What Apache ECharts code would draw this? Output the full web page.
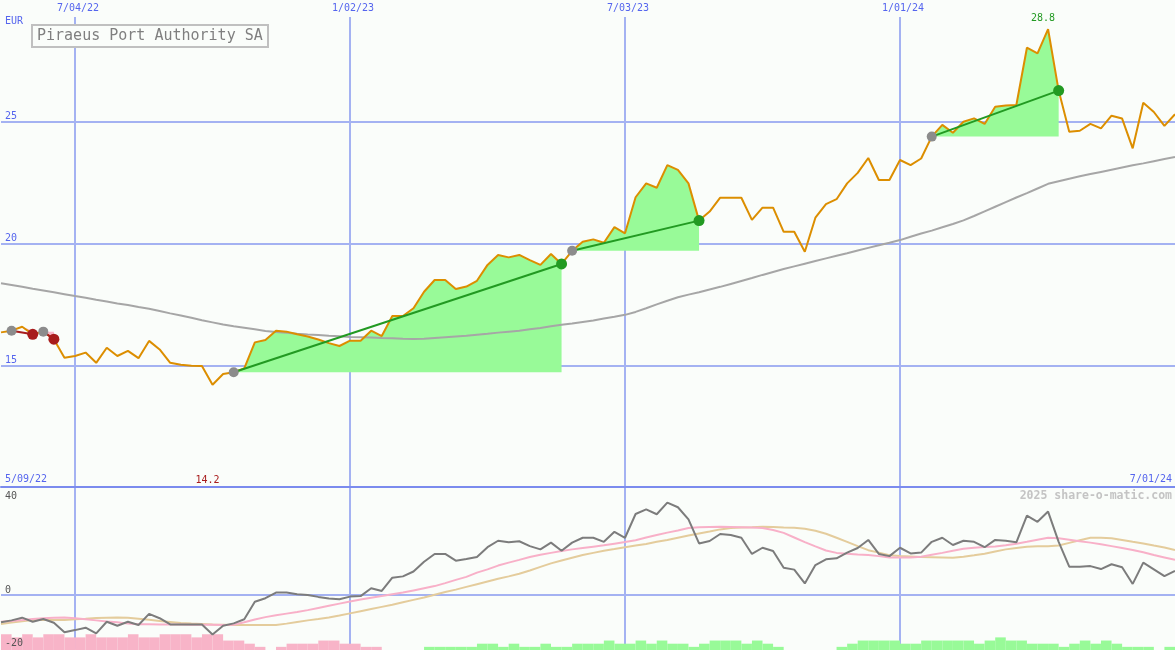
<!DOCTYPE html>
<html><head><meta charset="utf-8">
<script src="https://cdn.jsdelivr.net/npm/echarts@6/dist/echarts.min.js"></script>
<style>html,body{margin:0;padding:0;background:#fafdfa;}#c{width:1175px;height:650px;}</style>
</head><body><div id="c"></div>
<script>
// ---------- data ----------
const title = 'Piraeus Port Authority SA';
const currency = 'EUR';
const startDate = '2022-05-09';      // first weekly bar (5/09/22)
const weekCount = 113;
const firstShown = 1;                // week 0 lies just left of the visible frame
const dateTickIdx = [8, 34, 60, 86];   // 7/04/22, 1/02/23, 7/03/23, 1/01/24
const priceTicks = [15, 20, 25];
const oscTicks = [-20, 0, 40];

const price = [16.30,16.35,16.42,16.58,16.27,16.38,16.07,15.31,15.38,15.52,
 15.10,15.72,15.38,15.59,15.29,16.00,15.65,15.10,15.02,14.98,
 14.97,14.20,14.64,14.71,14.87,15.94,16.04,16.42,16.38,16.27,
 16.18,16.06,15.91,15.79,16.01,16.01,16.42,16.20,17.02,17.02,
 17.34,18.02,18.50,18.50,18.13,18.23,18.47,19.12,19.53,19.43,
 19.53,19.32,19.12,19.57,19.16,19.70,20.07,20.17,20.03,20.67,
 20.42,21.90,22.47,22.29,23.22,23.02,22.47,20.94,21.31,21.88,
 21.88,21.88,20.97,21.47,21.47,20.48,20.48,19.66,21.06,21.62,
 21.82,22.47,22.90,23.51,22.61,22.61,23.43,23.22,23.49,24.39,
 24.87,24.55,25.00,25.14,24.91,25.62,25.67,25.69,28.04,27.81,
 28.80,26.28,24.59,24.63,24.91,24.73,25.25,25.13,23.91,25.78,
 25.40,24.83,25.31];

const movingAvg = [18.45,18.37,18.30,18.22,18.14,18.07,18.00,17.92,17.84,17.77,
 17.69,17.62,17.54,17.47,17.39,17.32,17.23,17.13,17.04,16.95,
 16.85,16.76,16.67,16.60,16.54,16.48,16.41,16.37,16.33,16.29,
 16.26,16.24,16.21,16.19,16.16,16.15,16.14,16.12,16.11,16.09,
 16.08,16.09,16.12,16.15,16.18,16.21,16.25,16.29,16.34,16.38,
 16.42,16.48,16.53,16.60,16.66,16.71,16.78,16.84,16.92,16.99,
 17.07,17.19,17.34,17.50,17.65,17.79,17.90,18.00,18.11,18.22,
 18.34,18.46,18.58,18.71,18.83,18.95,19.06,19.17,19.28,19.39,
 19.50,19.60,19.71,19.82,19.93,20.03,20.14,20.28,20.41,20.53,
 20.67,20.80,20.95,21.13,21.32,21.51,21.70,21.89,22.07,22.26,
 22.45,22.56,22.66,22.76,22.85,22.94,23.03,23.12,23.21,23.29,
 23.38,23.47,23.55];

// rising trends (green) and falling trends (red): start / end week index
const riseStart = [23, 55, 89];
const riseEnd   = [54, 67, 101];
const fallStart = [2, 5];
const fallEnd   = [4, 6];

// lower panel
const oscMain = [-10.4,-10.1,-9.4,-8.4,-9.9,-8.9,-10.3,-13.8,-13.0,-12.1,
 -14.2,-9.9,-11.4,-9.9,-11.1,-7.0,-8.6,-10.9,-10.9,-10.9,
 -10.9,-14.6,-11.4,-10.5,-9.0,-2.5,-1.2,0.9,0.9,0.3,
 0.0,-0.7,-1.3,-1.6,-0.6,-0.4,2.5,1.5,6.4,6.9,
 8.7,12.3,15.2,15.2,12.7,13.3,14.1,17.7,20.1,19.5,
 19.9,18.1,16.9,19.4,16.4,19.4,21.2,21.2,19.7,23.4,
 21.2,30.0,31.7,29.9,34.2,32.5,28.0,19.1,20.0,22.6,
 22.2,21.2,15.2,17.5,16.3,10.1,9.4,4.3,11.1,13.2,
 13.6,15.7,17.4,20.4,15.2,14.4,17.5,15.4,15.7,19.7,
 21.2,18.5,20.1,19.7,17.7,20.4,20.1,19.5,29.4,27.1,
 30.9,19.7,10.5,10.5,10.7,9.6,11.4,10.3,4.1,12.0,
 9.5,7.0,8.9];

const oscPink = [-10.2,-9.9,-9.6,-9.3,-8.9,-8.6,-8.4,-8.3,-8.6,-9.0,
 -9.4,-9.8,-10.1,-10.6,-10.8,-10.8,-10.9,-10.9,-10.9,-11.0,
 -11.0,-11.0,-11.1,-11.0,-10.1,-9.1,-8.2,-7.5,-6.9,-6.3,
 -5.6,-4.8,-4.0,-3.2,-2.4,-1.7,-1.0,-0.4,0.3,0.9,
 1.7,2.5,3.3,4.4,5.6,6.7,8.3,9.5,10.9,12.0,
 13.0,14.1,14.9,15.6,16.3,16.9,17.4,17.9,18.4,19.0,
 19.6,20.3,21.3,22.2,23.1,23.9,24.8,25.1,25.2,25.3,
 25.2,25.1,25.0,24.8,24.1,23.0,21.3,19.6,18.0,16.5,
 15.6,15.3,15.0,14.8,14.4,13.9,13.9,13.9,14.2,14.9,
 15.6,16.4,17.1,17.5,17.8,18.0,18.4,19.0,19.7,20.5,
 21.2,21.0,20.5,19.9,19.4,18.8,18.1,17.4,16.7,15.8,
 14.8,13.9,13.0];

const oscTan = [-11.1,-10.7,-10.2,-9.7,-9.3,-9.3,-9.3,-9.3,-9.0,-8.8,
 -8.5,-8.4,-8.3,-8.4,-8.8,-9.2,-9.6,-10.0,-10.4,-10.6,
 -10.7,-10.9,-11.0,-11.1,-11.1,-11.1,-11.1,-11.1,-10.6,-10.0,
 -9.4,-8.9,-8.3,-7.6,-6.8,-6.0,-5.2,-4.4,-3.6,-2.7,
 -1.8,-0.9,0.1,1.1,2.0,3.0,4.0,5.0,6.0,6.9,
 7.9,9.1,10.4,11.7,12.8,13.8,14.8,15.6,16.4,17.0,
 17.7,18.3,18.9,19.7,20.4,21.2,22.0,22.8,23.5,24.3,
 24.8,25.0,25.1,25.3,25.2,25.0,24.9,24.5,23.8,22.7,
 21.2,19.7,18.1,16.6,15.7,14.7,14.4,14.3,14.1,14.0,
 13.9,13.8,14.2,14.7,15.3,16.1,16.9,17.4,17.9,18.1,
 18.1,18.3,19.3,20.3,21.2,21.2,21.0,20.4,19.7,19.1,
 18.3,17.6,16.7];

// weekly trend-strength histogram (negative = pink, positive = green)
const trendBars = [-5,-5,-4,-5,-4,-5,-5,-4,-4,-5,
 -4,-4,-4,-5,-4,-4,-5,-5,-5,-4,
 -5,-5,-3,-3,-2,-1,0,-1,-2,-2,
 -2,-3,-3,-2,-2,-1,-1,0,0,0,
 0,1,1,1,1,1,2,2,1,2,
 1,1,2,1,1,2,2,2,3,2,
 2,3,2,3,2,2,1,2,3,3,
 3,2,3,2,1,0,0,0,0,0,
 1,2,3,3,3,3,2,2,3,3,
 3,3,3,2,3,4,3,3,2,2,
 2,1,2,3,2,3,2,1,1,1,
 0,1];

// ---------- styles ----------
const BG = '#fafdfa', GRID = '#a4b2f2', DIV = '#7b8bee', BLUE = '#5565ee';
const ORANGE = '#dc8e00', MA = '#a6a6a6', FILLG = '#98fa98', GREEN = '#229a22';
const DOTGRAY = '#8c8c8c', RED = '#a81c1c', PINK = '#f8b4c8';
const MONO = '"DejaVu Sans Mono", monospace';

// categories (weekly dates, m/dd/yy)
const categories = [];
const d0 = new Date(startDate + 'T00:00:00Z');
for (let i = 0; i < weekCount; i++) {
  const d = new Date(d0.getTime() + i * 7 * 86400000);
  categories.push((d.getUTCMonth() + 1) + '/' + String(d.getUTCDate()).padStart(2, '0') + '/' + String(d.getUTCFullYear()).slice(2));
}
const shown = (arr) => arr.slice(firstShown);
const cats = shown(categories);
const isTick = (i) => dateTickIdx.indexOf(i + firstShown) >= 0;

const series = [];
// trend fills
function addFill(s, e, up, key) {
  const b = price[s];
  const inSeg = (i) => i >= s && i <= e;
  const baseArr = price.map((v, i) => inSeg(i) ? (up ? b : v) : null);
  const diffArr = price.map((v, i) => inSeg(i) ? Math.max(0, up ? v - b : b - v) : null);
  series.push({type: 'line', stack: key, data: shown(baseArr), symbol: 'none', lineStyle: {opacity: 0}, silent: true, z: 1});
  series.push({type: 'line', stack: key, data: shown(diffArr), symbol: 'none', lineStyle: {opacity: 0},
    areaStyle: {color: up ? FILLG : PINK, opacity: 1}, silent: true, z: 1});
}
riseStart.forEach((s, k) => addFill(s, riseEnd[k], true, 'rise' + k));
fallStart.forEach((s, k) => addFill(s, fallEnd[k], false, 'fall' + k));

series.push({type: 'line', data: shown(movingAvg), symbol: 'none', lineStyle: {color: MA, width: 2}, z: 2, silent: true});

const maxIdx = price.indexOf(Math.max(...price));
const minIdx = price.indexOf(Math.min(...price));
series.push({type: 'line', data: shown(price), symbol: 'none', lineStyle: {color: ORANGE, width: 2}, z: 3, silent: true,
  markPoint: {symbol: 'circle', symbolSize: 0, silent: true, data: [
    {coord: [categories[maxIdx], price[maxIdx]], label: {show: true, position: 'top', distance: 6, offset: [-5, 0],
      formatter: price[maxIdx].toFixed(1), color: GREEN, fontFamily: MONO, fontSize: 10}},
    {coord: [categories[minIdx], 10], label: {show: true, position: 'top', distance: 2, offset: [-5, 0],
      formatter: price[minIdx].toFixed(1), color: RED, fontFamily: MONO, fontSize: 10}}
  ]}});

function addTrendLine(s, e, color) {
  const data = price.map((v, i) => i === s ? {value: v, symbolSize: 10, itemStyle: {color: DOTGRAY}}
    : i === e ? {value: v, symbolSize: 11, itemStyle: {color: color}} : null);
  series.push({type: 'line', data: shown(data), connectNulls: true, symbol: 'circle', showSymbol: true, showAllSymbol: true,
    lineStyle: {color: color, width: 2}, z: 5, silent: true});
}
riseStart.forEach((s, k) => addTrendLine(s, riseEnd[k], GREEN));
fallStart.forEach((s, k) => addTrendLine(s, fallEnd[k], RED));

// lower panel
series.push({type: 'line', xAxisIndex: 2, yAxisIndex: 1, data: shown(oscTan), symbol: 'none', lineStyle: {color: '#e4cc9c', width: 2}, z: 2, silent: true});
series.push({type: 'line', xAxisIndex: 2, yAxisIndex: 1, data: shown(oscPink), symbol: 'none', lineStyle: {color: '#f8b0c8', width: 2}, z: 3, silent: true});
series.push({type: 'line', xAxisIndex: 2, yAxisIndex: 1, data: shown(oscMain), symbol: 'none', lineStyle: {color: '#7c7c7c', width: 2}, z: 4, silent: true});
const barsShown = shown(trendBars);
series.push({type: 'bar', xAxisIndex: 3, yAxisIndex: 2, data: barsShown.map(v => v < 0 ? -v : '-'),
  barWidth: '100%', barGap: '-100%', itemStyle: {color: PINK}, silent: true, z: 1});
series.push({type: 'bar', xAxisIndex: 3, yAxisIndex: 2, data: barsShown.map(v => v > 0 ? v : '-'),
  barWidth: '100%', barGap: '-100%', itemStyle: {color: FILLG}, silent: true, z: 1});

const chart = echarts.init(document.getElementById('c'), null, {renderer: 'canvas'});
const option = {
  animation: false,
  backgroundColor: BG,
  grid: [
    {left: 1, right: 0, top: 0, height: 487},
    {left: 1, right: 0, top: 487, height: 162},
    {left: 1, right: 0, top: 487, height: 163}
  ],
  xAxis: [
    {gridIndex: 0, type: 'category', data: cats, boundaryGap: false, position: 'top',
     axisLine: {show: false}, axisTick: {show: false},
     axisLabel: {inside: true, interval: (i) => isTick(i), margin: 0, color: BLUE, fontFamily: MONO, fontSize: 10,
       backgroundColor: BG, padding: [3, 2, 4, 8]},
     splitLine: {show: true, interval: (i) => isTick(i), lineStyle: {color: GRID, width: 2}}},
    {gridIndex: 0, type: 'category', data: cats, boundaryGap: false, position: 'bottom',
     axisLine: {show: true, lineStyle: {color: DIV, width: 2}}, axisTick: {show: false}, axisLabel: {show: false}, splitLine: {show: false}},
    {gridIndex: 1, type: 'category', data: cats, boundaryGap: false,
     axisLine: {show: false}, axisTick: {show: false}, axisLabel: {show: false},
     splitLine: {show: true, interval: (i) => isTick(i), lineStyle: {color: GRID, width: 2}}},
    {gridIndex: 2, type: 'category', data: cats.slice(0, barsShown.length), boundaryGap: true, show: false}
  ],
  yAxis: [
    {gridIndex: 0, type: 'value', min: 10, max: 30, interval: 5,
     axisLine: {show: false}, axisTick: {show: false},
     axisLabel: {inside: true, margin: 4, verticalAlign: 'bottom', color: BLUE, fontFamily: MONO, fontSize: 10,
       formatter: (v) => priceTicks.indexOf(v) >= 0 ? String(v) : ''},
     splitLine: {show: true, lineStyle: {color: ['rgba(0,0,0,0)', GRID, GRID, GRID, 'rgba(0,0,0,0)'], width: 2}}},
    {gridIndex: 1, type: 'value', min: -20, max: 40, interval: 20,
     axisLine: {show: false}, axisTick: {show: false},
     axisLabel: {inside: true, margin: 4, verticalAlign: 'bottom', color: '#555', fontFamily: MONO, fontSize: 10,
       showMinLabel: true, hideOverlap: false,
       formatter: (v) => (oscTicks.indexOf(v) >= 0 && v !== 40) ? String(v) : ''},
     splitLine: {show: true, lineStyle: {color: ['rgba(0,0,0,0)', GRID, 'rgba(0,0,0,0)', 'rgba(0,0,0,0)'], width: 2}}},
    {gridIndex: 2, type: 'value', min: 0, max: 51.7, show: false}
  ],
  series: series
};
chart.setOption(option);

const y40 = chart.convertToPixel({yAxisIndex: 1}, 40);
const yMinus20 = chart.convertToPixel({yAxisIndex: 1}, -20);
chart.setOption({graphic: [
  {type: 'text', x: 5, y: 16, style: {text: currency, fill: BLUE, font: '10px ' + MONO}, z: 100},
  {type: 'rect', shape: {x: 32, y: 25, width: 236, height: 22}, style: {fill: BG, stroke: '#c0c0c0', lineWidth: 2}, z: 100},
  {type: 'text', x: 37, y: 36, style: {text: title, fill: '#7f7f7f', font: '15px ' + MONO, verticalAlign: 'middle'}, z: 101},
  {type: 'text', x: 5, y: 474, style: {text: categories[0], fill: BLUE, font: '10px ' + MONO}, z: 100},
  {type: 'text', x: 1172, y: 474, style: {text: categories[categories.length - 1], fill: BLUE, font: '10px ' + MONO, align: 'right'}, z: 100},
  {type: 'text', x: 1172, y: 490, style: {text: '2025 share-o-matic.com', fill: '#c4c4c4', font: 'bold 11.5px ' + MONO, align: 'right'}, z: 100},
  {type: 'text', x: 5, y: y40 + 4, style: {text: String(oscTicks[oscTicks.length - 1]), fill: '#555', font: '10px ' + MONO}, z: 100},
  {type: 'text', x: 5, y: yMinus20 - 1, style: {text: String(oscTicks[0]), fill: '#555', font: '10px ' + MONO, verticalAlign: 'bottom'}, z: 100}
]});
</script>
</body></html>
